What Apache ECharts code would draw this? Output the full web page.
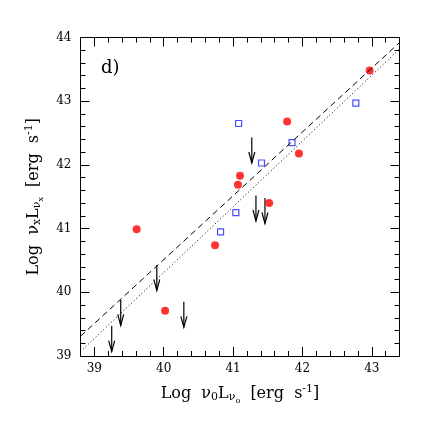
<!DOCTYPE html>
<html>
<head>
<meta charset="utf-8">
<script src="https://cdn.jsdelivr.net/npm/echarts@6/dist/echarts.min.js"></script>
<style>
  html, body { margin: 0; background: #fff; }
  #chart { width: 436px; height: 436px; }
</style>
</head>
<body>
<div id="chart"></div>
<script>
// tick labels
const xMajor = [39, 40, 41, 42, 43];

// detections (red filled circles)
const redX = [39.61, 40.02, 40.74, 41.07, 41.10, 41.52, 41.78, 41.95, 42.97];
const redY = [40.99, 39.71, 40.74, 41.69, 41.83, 41.40, 42.68, 42.18, 43.48];

// open blue squares
const blueX = [41.08, 41.41, 41.85, 42.77, 41.04, 40.82];
const blueY = [42.65, 42.03, 42.35, 42.97, 41.25, 40.95];

// upper limits (arrows)
const limitX = [41.27, 41.33, 41.46, 39.90, 39.38, 40.29, 39.25];
const limitY = [42.43, 41.52, 41.48, 40.43, 39.88, 39.85, 39.47];
const arrowLen = 0.4;

// fitted relations
const fitX = [38.8, 43.4];
const dashedY = [39.31, 43.92];
const dottedY = [39.07, 43.82];

const font = 'DejaVu Serif';

const pairs = (xs, ys) => xs.map((x, i) => [x, ys[i]]);

const xBase = {
  type: 'value', min: 38.8, max: 43.4,
  axisLine: { lineStyle: { color: '#000', width: 1 } },
  splitLine: { show: false }
};
const yBase = {
  type: 'value', min: 39, max: 44, interval: 1,
  axisLine: { lineStyle: { color: '#000', width: 1 } },
  axisTick: { inside: true, length: 9, lineStyle: { color: '#000' } },
  minorTick: { show: true, splitNumber: 5, length: 5, lineStyle: { color: '#000' } },
  splitLine: { show: false },
  minorSplitLine: { show: false }
};

const rich = {
  s: { fontFamily: font, fontSize: 11, color: '#000', padding: [7, 0, 0, 0] },
  ss: { fontFamily: font, fontSize: 8, color: '#000', padding: [14, 0, 0, 0] },
  p: { fontFamily: font, fontSize: 11, color: '#000', padding: [0, 0, 9, 0] }
};

const option = {
  animation: false,
  backgroundColor: '#fff',
  grid: { left: 80.5, right: 36.5, top: 37.5, bottom: 80 },
  xAxis: [
    {
      ...xBase, position: 'bottom',
      axisTick: { inside: true, length: 9, customValues: xMajor, lineStyle: { color: '#000' } },
      axisLabel: { customValues: xMajor, fontFamily: font, fontSize: 12, color: '#000', margin: 7 },
      name: 'Log  ν{s|0}L{s|ν}{ss|o}  [erg  s{p|-1}]',
      nameLocation: 'middle', nameGap: 27,
      nameTextStyle: { fontFamily: font, fontSize: 16, color: '#000', rich }
    },
    {
      ...xBase, position: 'bottom', interval: 0.2,
      axisTick: { inside: true, length: 5, lineStyle: { color: '#000' } },
      axisLabel: { show: false }
    },
    {
      ...xBase, position: 'top',
      axisTick: { inside: true, length: 9, customValues: xMajor, lineStyle: { color: '#000' } },
      axisLabel: { show: false }
    },
    {
      ...xBase, position: 'top', interval: 0.2,
      axisTick: { inside: true, length: 5, lineStyle: { color: '#000' } },
      axisLabel: { show: false }
    }
  ],
  yAxis: [
    {
      ...yBase, position: 'left',
      axisLabel: { fontFamily: font, fontSize: 12, color: '#000', margin: 9, showMinLabel: true, showMaxLabel: true },
      name: 'Log  ν{s|x}L{s|ν}{ss|x}  [erg  s{p|-1}]',
      nameLocation: 'middle', nameGap: 36, nameRotate: 90,
      nameTextStyle: { fontFamily: font, fontSize: 16, color: '#000', rich }
    },
    {
      ...yBase, position: 'right',
      axisLabel: { show: false }
    }
  ],
  graphic: [
    { type: 'text', left: 101, top: 59, style: { text: 'd)', font: '18px "DejaVu Serif"', fill: '#000' } }
  ],
  series: [
    {
      type: 'line', data: pairs(fitX, dashedY), showSymbol: false,
      lineStyle: { color: '#000', width: 1, type: [6, 4] }
    },
    {
      type: 'line', data: pairs(fitX, dottedY), showSymbol: false,
      lineStyle: { color: '#000', width: 1, type: [1, 2.5] }
    },
    {
      type: 'scatter', data: pairs(redX, redY), symbol: 'circle', symbolSize: 8,
      itemStyle: { color: '#ff0000' }
    },
    {
      type: 'scatter', data: pairs(blueX, blueY), symbol: 'rect', symbolSize: 6,
      itemStyle: { color: '#fff', borderColor: '#2020ff', borderWidth: 1.2 }
    },
    {
      type: 'custom', data: pairs(limitX, limitY),
      renderItem: (params, api) => {
        const top = api.coord([api.value(0), api.value(1)]);
        const tip = api.coord([api.value(0), api.value(1) - arrowLen]);
        return {
          type: 'group',
          children: [
            { type: 'line', shape: { x1: top[0], y1: top[1], x2: tip[0], y2: tip[1] },
              style: { stroke: '#000', lineWidth: 1.2 } },
            { type: 'polyline',
              shape: { points: [[tip[0] - 3, tip[1] - 11], [tip[0], tip[1]], [tip[0] + 3, tip[1] - 11]] },
              style: { stroke: '#000', fill: null, lineWidth: 1.2 } }
          ]
        };
      }
    }
  ]
};

const chart = echarts.init(document.getElementById('chart'));
chart.setOption(option);
</script>
</body>
</html>
